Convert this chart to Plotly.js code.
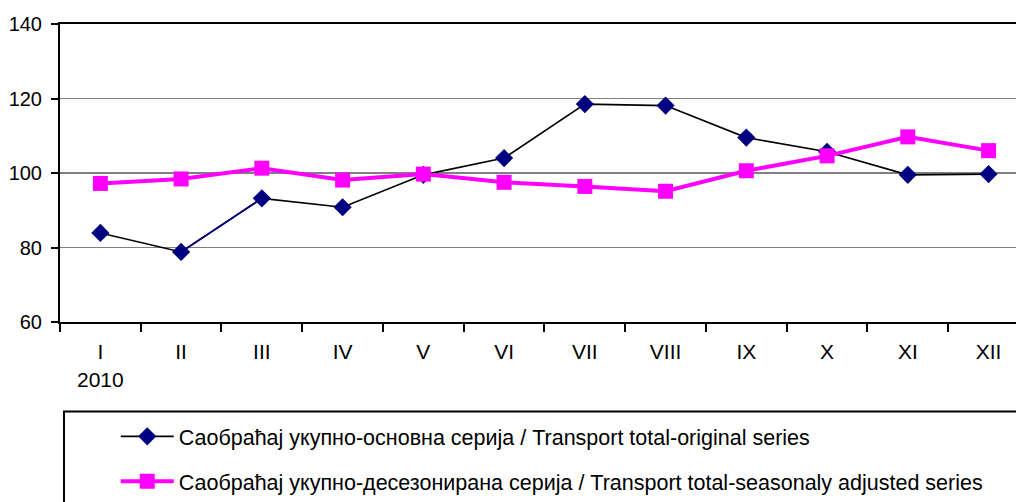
<!DOCTYPE html>
<html>
<head>
<meta charset="utf-8">
<script src="https://cdn.plot.ly/plotly-3.0.1.min.js"></script>
<style>html,body{margin:0;padding:0;background:#fff;}#chart{width:1016px;height:502px;}</style>
</head>
<body>
<div id="chart"></div>
<script>
var months = ["I","II","III","IV","V","VI","VII","VIII","IX","X","XI","XII"];
var yearLabel = "2010";
var originalSeries = [83.9, 78.8, 93.2, 90.8, 99.5, 104.0, 118.5, 118.1, 109.5, 105.7, 99.5, 99.7];
var adjustedSeries = [97.2, 98.4, 101.3, 98.1, 99.7, 97.5, 96.4, 95.1, 100.6, 104.6, 109.7, 106.0];
var nameOriginal = "Саобраћај укупно-основна серија / Transport total-original series";
var nameAdjusted = "Саобраћај укупно-десезонирана серија / Transport total-seasonaly adjusted series";
var yTicks = [60, 80, 100, 120, 140];

var tickText = months.map(function(m, i){ return i === 0 ? m + "<br>" + yearLabel : m; });

var traces = [
  {
    x: months, y: originalSeries, name: nameOriginal, type: "scatter", mode: "lines+markers",
    line: {color: "#000000", width: 1.6},
    marker: {symbol: "diamond", size: 14, color: "#000080"},
    legendgroup: "a"
  },
  {
    x: months.slice(1, 3), y: originalSeries.slice(1, 3), type: "scatter", mode: "lines",
    line: {color: "#000080", width: 1.6}, showlegend: false, hoverinfo: "skip"
  },
  {
    x: months, y: adjustedSeries, name: nameAdjusted, type: "scatter", mode: "lines+markers",
    line: {color: "#FF00FF", width: 4},
    marker: {symbol: "square", size: 15, color: "#FF00FF"},
    legendgroup: "b"
  }
];

var layout = {
  width: 1016, height: 502,
  margin: {l: 60, r: 0, t: 24, b: 178, pad: 0},
  paper_bgcolor: "#ffffff", plot_bgcolor: "#ffffff",
  font: {family: "Liberation Sans, Arial, sans-serif", color: "#000000", size: 20},
  showlegend: true,
  xaxis: {
    type: "category", range: [-0.5, 11.34],
    tickmode: "array", tickvals: months, ticktext: tickText,
    showline: true, linecolor: "#000000", linewidth: 2, mirror: true,
    ticks: "outside", tickson: "boundaries", ticklen: 8, tickwidth: 2, tickcolor: "#000000",
    showgrid: false, zeroline: false, ticklabelstandoff: 10,
    tickfont: {size: 21}
  },
  yaxis: {
    range: [60, 140], tickvals: yTicks,
    showline: true, linecolor: "#000000", linewidth: 2,
    ticks: "outside", ticklen: 7, tickwidth: 2, tickcolor: "#000000",
    showgrid: true, gridcolor: "#808080", gridwidth: 1.5, zeroline: false,
    ticklabelstandoff: 5, tickfont: {size: 20}
  },
  legend: {
    x: 0.0583, y: -0.315, xanchor: "left", yanchor: "top",
    bgcolor: "rgba(0,0,0,0)", borderwidth: 0,
    traceorder: "grouped", tracegroupgap: 14, itemwidth: 53,
    font: {size: 21.5}
  },
  shapes: [
    {type: "rect", xref: "paper", yref: "paper", x0: 4/956, x1: 1.2, y0: -0.3, y1: -0.8,
     line: {color: "#000000", width: 2}, fillcolor: "rgba(0,0,0,0)"}
  ]
};

Plotly.newPlot("chart", traces, layout, {displayModeBar: false, staticPlot: true});
</script>
</body>
</html>
